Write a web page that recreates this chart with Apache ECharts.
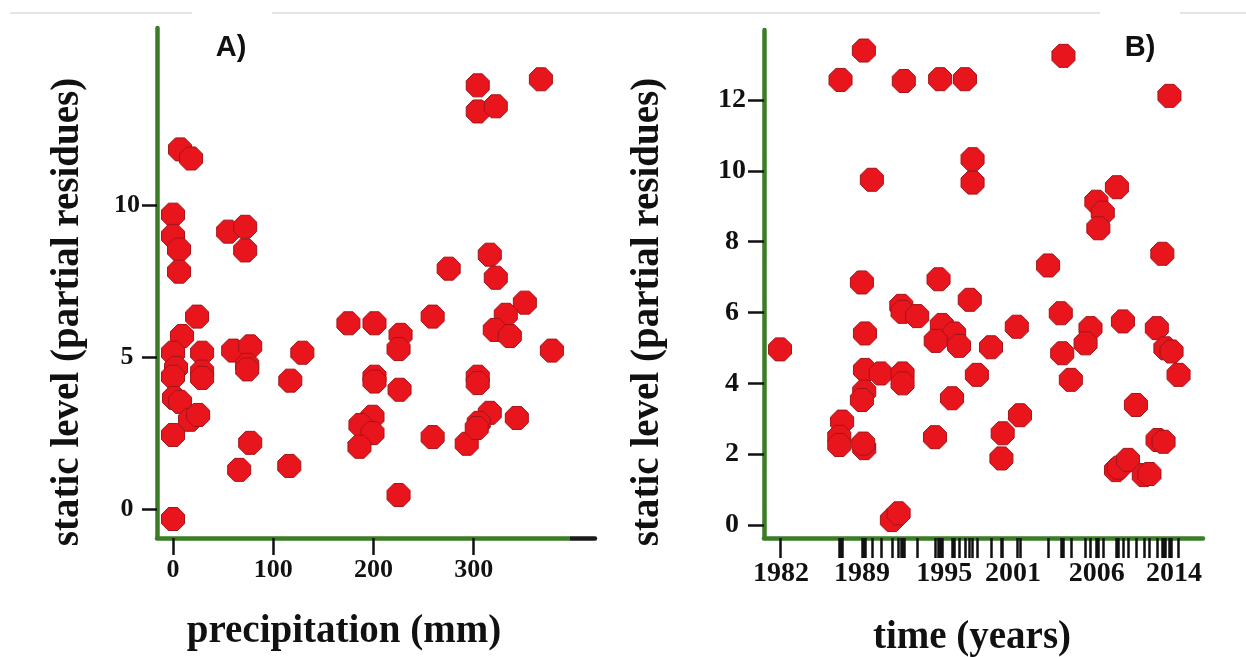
<!DOCTYPE html>
<html>
<head>
<meta charset="utf-8">
<script src="https://cdn.jsdelivr.net/npm/echarts@6/dist/echarts.min.js"></script>
<style>
html,body{margin:0;padding:0;background:#fff;}
#chart{width:1246px;height:657px;}
</style>
</head>
<body>
<div id="chart"></div>
<script>
// ---- Panel A: precipitation (mm) vs static level (partial residues)
const precipA = [304,304,322,367,7,18,0,0,6,6,55,72,72,316,275,322,351,332,24,175,201,259,227,225,321,336,378,9,0,3,0,1,7,0,17,25,29,29,29,60,77,74,74,129,117,66,77,116,201,201,226,199,187,199,186,225,259,293,304,304,316,305,303,343,0];
const levelA  = [13.96,13.1,13.27,14.16,11.85,11.55,9.7,9.0,8.55,7.82,9.14,9.3,8.52,8.38,7.92,7.62,6.8,6.4,6.34,6.12,6.12,6.34,5.74,5.27,5.9,5.7,5.22,5.7,5.15,4.65,4.36,3.66,3.53,2.44,2.94,3.1,5.15,4.53,4.32,5.22,5.36,4.75,4.6,5.15,4.23,1.29,2.18,1.42,4.36,4.2,3.93,3.04,2.77,2.5,2.05,0.46,2.37,2.15,4.36,4.15,3.17,2.84,2.67,3.0,-0.33];
const xTicksA = [0,100,200,300];
const yTicksA = [0,5,10];

// ---- Panel B: time (years) vs static level (partial residues)
const yearB  = [1986.85,1988.75,1992.0,1994.96,1996.98,2005.0,2013.63,1989.4,1997.6,1997.6,2009.35,2007.68,2008.2,2007.84,2013.05,2003.75,1988.59,1994.83,1997.37,1991.8,1991.9,1993.09,2004.78,1988.84,1981.92,1995.1,1996.1,1994.6,1996.5,2001.2,1999.1,2004.9,2007.2,2006.8,2009.84,2012.6,2013.3,2013.8,2014.37,2005.6,1988.84,1990.13,1991.9,1991.9,1988.78,1988.59,1997.95,1995.93,1986.98,1986.75,1986.75,1988.78,1988.7,1994.54,2000.05,1999.95,2001.46,2010.9,2012.66,2013.15,2009.28,2009.5,2010.25,2011.54,2012.0,1991.03,1991.58];
const levelB = [12.57,13.4,12.54,12.59,12.59,13.25,12.12,9.75,10.33,9.67,9.54,9.13,8.82,8.38,7.66,7.33,6.85,6.94,6.36,6.19,6.02,5.9,5.98,5.41,4.96,5.65,5.41,5.2,5.06,5.6,5.02,4.85,5.56,5.13,5.75,5.56,4.99,4.9,4.24,4.1,4.38,4.28,4.28,4.0,3.77,3.53,4.24,3.58,2.92,2.49,2.26,2.17,2.3,2.48,2.59,1.88,3.1,3.39,2.4,2.35,1.55,1.62,1.84,1.41,1.44,0.14,0.33];
const xTickPosB  = [1982,1988.6,1995.3,2000.9,2007.7,2014];
const xTickTextB = ['1982','1989','1995','2001','2006','2014'];
const yTicksB = [0,2,4,6,8,10,12];

const GREEN = '#3b7d24';
const RED = '#e8151c';
const OCT = 'path://M30,0 L70,0 L100,30 L100,70 L70,100 L30,100 L0,70 L0,30 Z';
const serif = '"Liberation Serif","Times New Roman",serif';

const chart = echarts.init(document.getElementById('chart'), null, {renderer:'canvas'});

function zip(a,b){ return a.map((v,i)=>[v,b[i]]); }

const tickLine = {show:true, lineStyle:{color:'#111', width:2.5}};

chart.setOption({
  animation:false,
  backgroundColor:'#ffffff',
  grid:[
    {left:157, top:28, width:438, height:510},
    {left:764, top:30, width:439, height:508}
  ],
  xAxis:[
    {gridIndex:0, type:'value', min:-16, max:421,
     axisLine:{show:true, onZero:false, lineStyle:{width:4.5, cap:'round', color:new echarts.graphic.LinearGradient(0,0,1,0,[
       {offset:0,color:GREEN},{offset:0.938,color:GREEN},{offset:0.938,color:'#1a1a1a'},{offset:1,color:'#1a1a1a'}])}},
     axisTick:Object.assign({length:17, customValues:xTicksA}, tickLine),
     axisLabel:{customValues:xTicksA, margin:19, color:'#111', fontFamily:serif, fontWeight:'bold', fontSize:26},
     splitLine:{show:false}},
    {gridIndex:1, type:'value', min:1980.62, max:2016.36,
     axisLine:{show:true, onZero:false, lineStyle:{width:4.5, color:GREEN, cap:'round'}},
     axisTick:{show:true, length:20, customValues:yearB, lineStyle:{color:'#111', width:2.5}},
     axisLabel:{customValues:xTickPosB, margin:22, color:'#111', fontFamily:serif, fontWeight:'bold', fontSize:28,
       formatter:function(v){ let bi=0; xTickPosB.forEach((p,i)=>{ if(Math.abs(p-v)<Math.abs(xTickPosB[bi]-v)) bi=i; }); return xTickTextB[bi]; }},
     splitLine:{show:false}}
  ],
  yAxis:[
    {gridIndex:0, type:'value', min:-0.955, max:15.85,
     axisLine:{show:true, onZero:false, lineStyle:{width:4.5, color:GREEN, cap:'round'}},
     axisTick:Object.assign({length:15, customValues:yTicksA}, tickLine),
     axisLabel:{customValues:yTicksA, margin:30, align:'center', color:'#111', fontFamily:serif, fontWeight:'bold', fontSize:26},
     splitLine:{show:false}},
    {gridIndex:1, type:'value', min:-0.367, max:13.98,
     axisLine:{show:true, onZero:false, lineStyle:{width:4.5, color:GREEN, cap:'round'}},
     axisTick:Object.assign({length:16, customValues:yTicksB}, tickLine),
     axisLabel:{customValues:yTicksB, margin:32, align:'center', color:'#111', fontFamily:serif, fontWeight:'bold', fontSize:28},
     splitLine:{show:false}}
  ],
  series:[
    {type:'scatter', xAxisIndex:0, yAxisIndex:0, data:zip(precipA, levelA), symbol:OCT, symbolSize:23,
     itemStyle:{color:RED, borderColor:'#a3141a', borderWidth:1, opacity:1}},
    {type:'scatter', xAxisIndex:1, yAxisIndex:1, data:zip(yearB, levelB), symbol:OCT, symbolSize:23,
     itemStyle:{color:RED, borderColor:'#a3141a', borderWidth:1, opacity:1}}
  ],
  graphic:[
    {type:'line', shape:{x1:10,y1:13,x2:192,y2:13}, style:{stroke:'#e4e4e4', lineWidth:2}, silent:true},
    {type:'line', shape:{x1:272,y1:13,x2:1100,y2:13}, style:{stroke:'#e4e4e4', lineWidth:2}, silent:true},
    {type:'line', shape:{x1:1180,y1:13,x2:1246,y2:13}, style:{stroke:'#e4e4e4', lineWidth:2}, silent:true},
    {type:'text', x:231, y:48, style:{text:'A)', font:'bold 29px "Liberation Sans",Arial,sans-serif', fill:'#111', textAlign:'center', textVerticalAlign:'middle'}},
    {type:'text', x:1140, y:48, style:{text:'B)', font:'bold 29px "Liberation Sans",Arial,sans-serif', fill:'#111', textAlign:'center', textVerticalAlign:'middle'}},
    {type:'text', x:68, y:312, rotation:Math.PI/2, style:{text:'static level (partial residues)', font:'bold 39px '+serif, fill:'#111', textAlign:'center', textVerticalAlign:'middle'}},
    {type:'text', x:648, y:312, rotation:Math.PI/2, style:{text:'static level (partial residues)', font:'bold 39px '+serif, fill:'#111', textAlign:'center', textVerticalAlign:'middle'}},
    {type:'text', x:344, y:632, style:{text:'precipitation (mm)', font:'bold 39px '+serif, fill:'#111', textAlign:'center', textVerticalAlign:'middle'}},
    {type:'text', x:972, y:638, style:{text:'time (years)', font:'bold 39px '+serif, fill:'#111', textAlign:'center', textVerticalAlign:'middle'}}
  ]
});
</script>
</body>
</html>
